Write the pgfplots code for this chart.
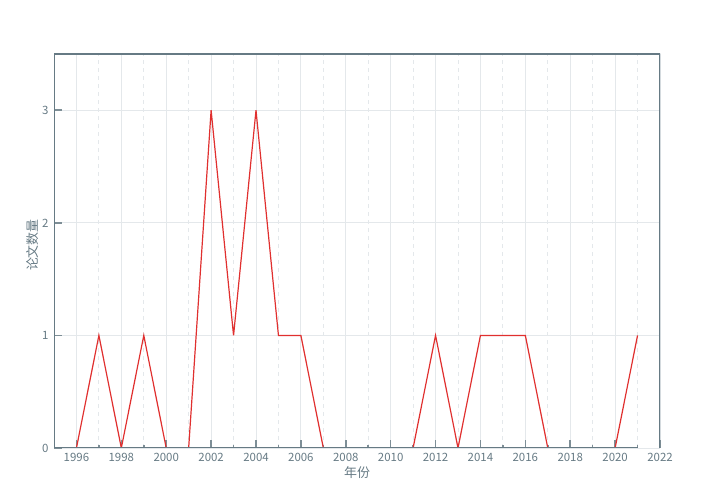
\documentclass[border=0pt]{standalone}
\usepackage{fontspec}
\setmainfont{Noto Sans CJK SC}
\usepackage{pgfplots}
\pgfplotsset{compat=1.18}
\definecolor{spine}{HTML}{667A84}
\definecolor{gridc}{HTML}{E4E8EB}
\definecolor{linered}{HTML}{E0302F}

\pgfplotstableread{
year count
1996 0
1997 1
1998 0
1999 1
2000 0
2001 0
2002 3
2003 1
2004 3
2005 1
2006 1
2007 0
2008 0
2009 0
2010 0
2011 0
2012 1
2013 0
2014 1
2015 1
2016 1
2017 0
2018 0
2019 0
2020 0
2021 1
}\papers

\begin{document}
\begin{tikzpicture}
\useasboundingbox (-54bp,-56bp) rectangle (662bp,448bp);
\begin{axis}[
    at={(0,0)}, anchor=south west,
    scale only axis,
    width=606bp, height=394bp,
    xmin=1995, xmax=2022,
    ymin=0, ymax=3.5,
    xtick={1996,1998,...,2022},
    minor xtick={1997,1999,...,2021},
    ytick={0,1,2,3},
    xtick pos=left, ytick pos=left,
    tick align=inside,
    major tick length=8bp,
    minor tick length=3bp,
    every tick/.style={spine!85, line width=1.6bp},
    grid=both,
    major grid style={gridc, line width=1bp},
    minor grid style={gridc, line width=1bp, dash pattern=on 4bp off 4bp},
    axis line style={draw=none},
    /pgf/number format/assume math mode=true,
    /pgf/number format/1000 sep={},
    tick label style={font=\fontsize{11.5}{13}\selectfont, text=spine},
    xticklabel style={yshift=-2bp},
    yticklabel style={xshift=-2bp},
    xlabel={年份},
    ylabel={论文数量},
    label style={font=\fontsize{13}{15}\selectfont, text=spine},
    xlabel style={at={(axis description cs:0.5,0)}, anchor=center, yshift=-25bp},
    ylabel style={at={(axis description cs:0,0.515)}, anchor=center, yshift=21bp},
]
\addplot[linered, line width=1.2bp, mark=none] table[x=year, y=count] {\papers};
\draw[spine, line width=1.2bp] (rel axis cs:0,0) -- (rel axis cs:0,1) -- (rel axis cs:1,1) -- (rel axis cs:1,0);
\draw[spine, line width=1.2bp] (rel axis cs:0,0) -- (axis cs:2021,0);
\end{axis}
\end{tikzpicture}
\end{document}
